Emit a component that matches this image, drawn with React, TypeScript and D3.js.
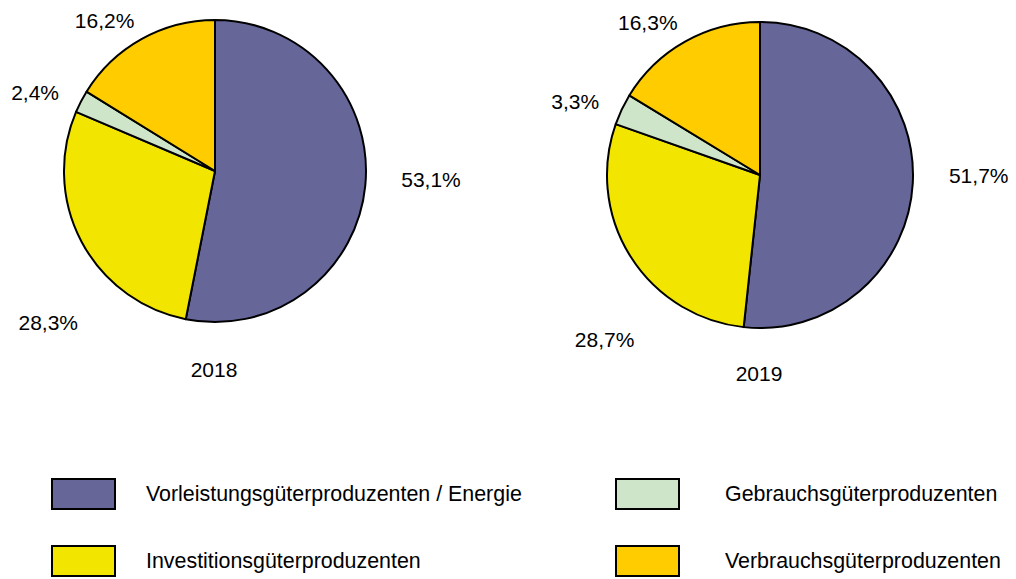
import * as d3 from "d3";

const categories = [
  "Vorleistungsgüterproduzenten / Energie",
  "Investitionsgüterproduzenten",
  "Gebrauchsgüterproduzenten",
  "Verbrauchsgüterproduzenten",
];
const colors = ["#666699", "#f2e600", "#cfe5c9", "#ffcc00"];
const years = ["2018", "2019"];
const shares2018 = [53.1, 28.3, 2.4, 16.2];
const shares2019 = [51.7, 28.7, 3.3, 16.3];

// label layout: angle nudge (deg) and radius factor per slice
const labelNudge = [-3, -17.3, -2, -4];
const labelRadius = [1.235, 1.37, 1.16, 1.14];

const W = 1016;
const H = 579;
const FONT = "Liberation Sans, Arial, sans-serif";
const FS = 21;
const LEGEND_FS = 21.4;

const pies = [
  { year: years[0], values: shares2018, cx: 215, cy: 171, r: 151 },
  { year: years[1], values: shares2019, cx: 760, cy: 175, r: 153 },
];

const fmt = (v: number) => v.toFixed(1).replace(".", ",") + "%";

// rough Arial width of "12,3%" style labels
const labelWidth = (s: string) => {
  let w = 0;
  for (const ch of s) w += ch === "," ? 0.278 : ch === "%" ? 0.889 : 0.556;
  return w * FS;
};

function Pie({ year, values, cx, cy, r }: { year: string; values: number[]; cx: number; cy: number; r: number }) {
  const arcs = d3.pie<number>().sort(null).value((d) => d)(values);
  const arc = d3.arc<d3.PieArcDatum<number>>().innerRadius(0).outerRadius(r);
  return (
    <g>
      <g transform={`translate(${cx},${cy})`}>
        {arcs.map((a, i) => (
          <path key={i} d={arc(a) || ""} fill={colors[i]} stroke="#000" strokeWidth={2} strokeLinejoin="round" />
        ))}
        {arcs.map((a, i) => {
          const ang = (a.startAngle + a.endAngle) / 2 + (labelNudge[i] * Math.PI) / 180;
          const sx = Math.sin(ang);
          const sy = -Math.cos(ang);
          const txt = fmt(values[i]);
          const w = labelWidth(txt);
          const px = sx * r * labelRadius[i] + (sx * w) / 2;
          const py = sy * r * labelRadius[i] + (sy * 15) / 2;
          return (
            <text key={i} x={px} y={py} dy="0.35em" textAnchor="middle" fontSize={FS} fontFamily={FONT} fill="#000">
              {txt}
            </text>
          );
        })}
      </g>
      <text x={cx - 1} y={cy + 199} dy="0.35em" textAnchor="middle" fontSize={FS} fontFamily={FONT} fill="#000">
        {year}
      </text>
    </g>
  );
}

export default function App() {
  const legendX = [52, 616];
  const legendTextX = [146, 725];
  const legendY = [479, 546];
  return (
    <svg width={W} height={H} style={{ position: "absolute", left: 0, top: 0, background: "#fff" }}>
      {pies.map((p) => (
        <Pie key={p.year} {...p} />
      ))}
      {categories.map((c, i) => {
        const col = i === 0 || i === 1 ? 0 : 1;
        const row = i === 0 || i === 2 ? 0 : 1;
        return (
          <g key={c}>
            <rect x={legendX[col]} y={legendY[row]} width={63} height={30} fill={colors[i]} stroke="#000" strokeWidth={2} />
            <text x={legendTextX[col]} y={legendY[row] + 15} dy="0.35em" fontSize={LEGEND_FS} fontFamily={FONT} fill="#000">
              {c}
            </text>
          </g>
        );
      })}
    </svg>
  );
}
